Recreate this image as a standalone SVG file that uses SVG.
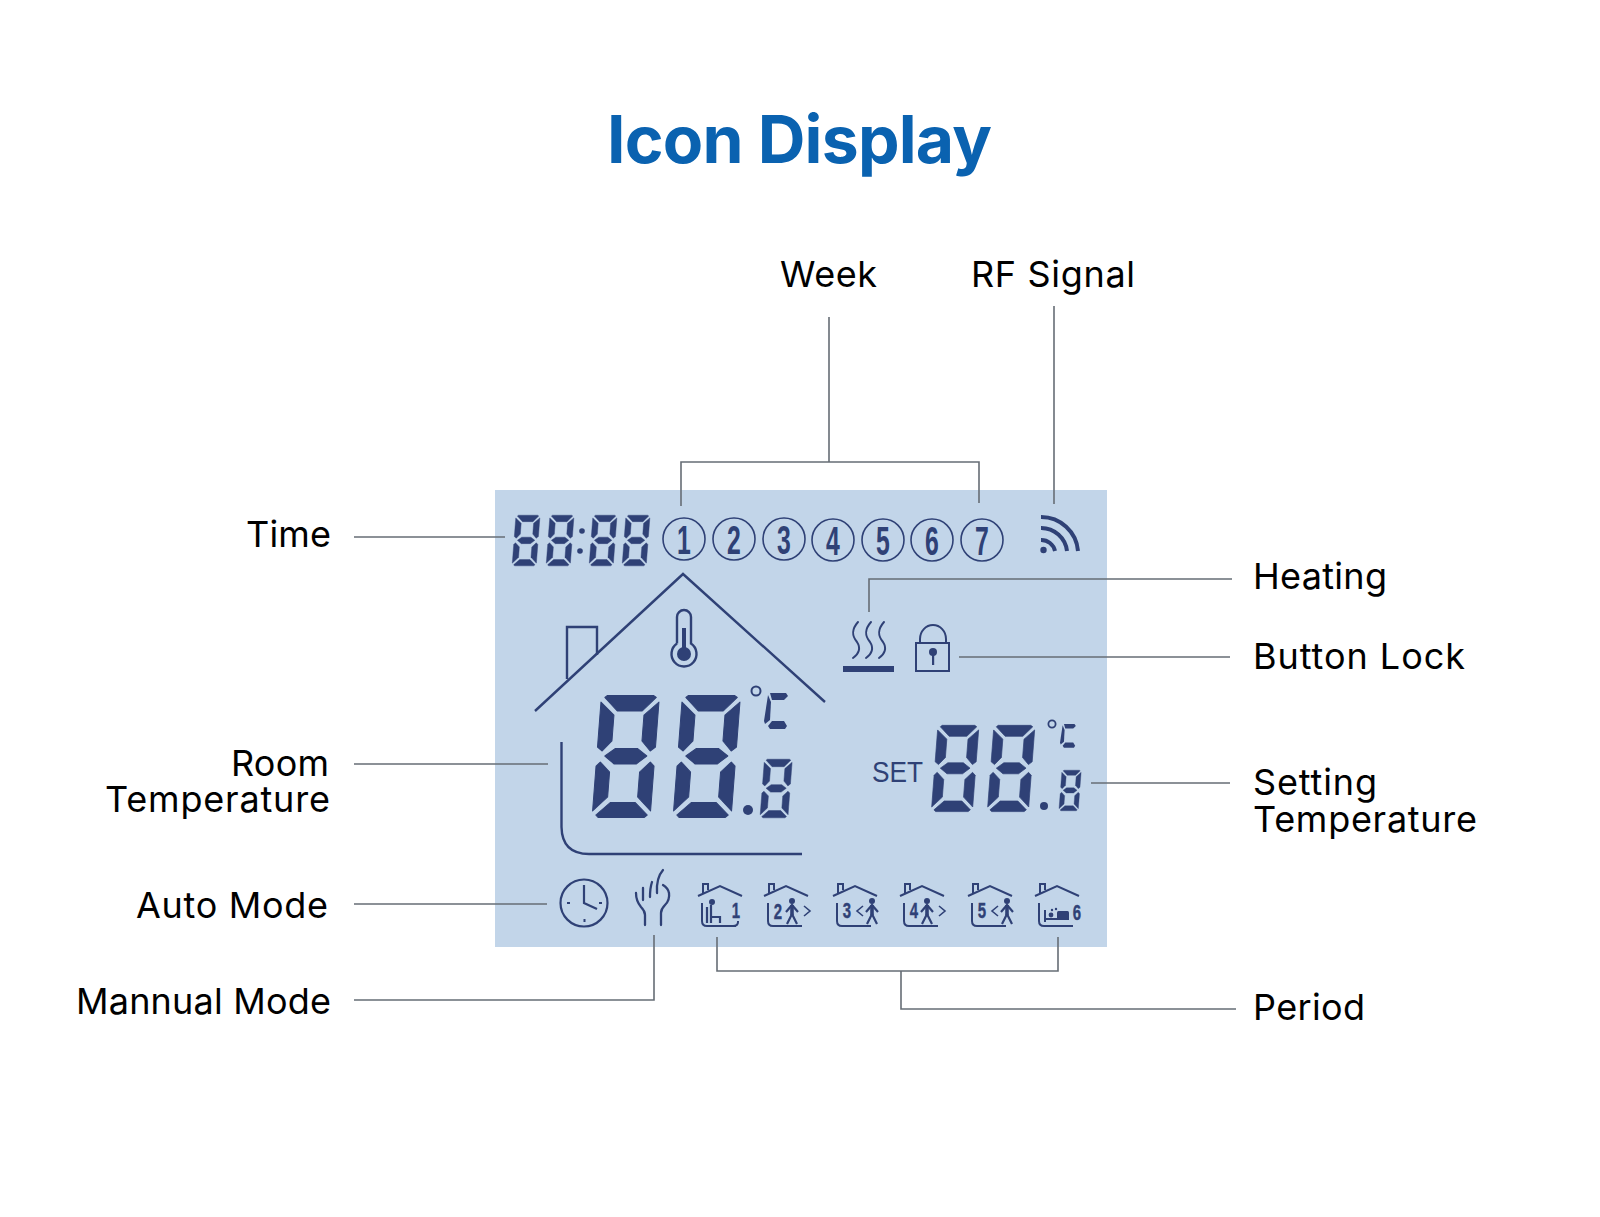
<svg xmlns="http://www.w3.org/2000/svg" width="1600" height="1217" viewBox="0 0 1600 1217">
<style>
.lb{font-family:Inter,"Liberation Sans",sans-serif;font-size:36px;fill:#000}
.ti{font-family:Inter,"Liberation Sans",sans-serif;font-size:66px;font-weight:700;fill:#0a62b0}
.ld{fill:none;stroke:#666d75;stroke-width:1.6}
.dk{fill:#2f4176}
.ln{fill:none;stroke:#2f4176;stroke-width:2.4}
.th{fill:none;stroke:#2f4176;stroke-width:2;stroke-linecap:round}
.num{font-family:"Liberation Sans",sans-serif;font-weight:700;fill:#2f4176;text-anchor:middle}
</style>
<defs>
<g id="seg" class="dk" stroke="#2f4176" stroke-width="1" stroke-linejoin="round">
<polygon points="6,.5 52,.5 55,2.500 42,16 17,16 3.500,2.500"/>
<polygon points="0,7 14,20 14,46 5,56 0,52"/>
<polygon points="58,7 44,20 44,46 53,56 58,52"/>
<polygon points="8,61 18,53.500 40,53.500 50,61 40,69 18,69"/>
<polygon points="0,71 4,67 14,77 14,102 0,116"/>
<polygon points="58,71 54,67 44,77 44,102 58,116"/>
<polygon points="3.500,120 17,107.500 42,107.500 55,120 52,122.500 6,122.500"/>
</g>
<g id="cel" class="dk">
<polygon points="6,0 22,0 24,3 20,7 8,7"/>
<polygon points="4,2 7,9 6,27 1,31 0,28"/>
<polygon points="4,33 8,28 20,28 23,33 21,36 6,36"/>
</g>
<g id="hs" fill="none" stroke="#2f4176" stroke-width="2">
<path d="M-22,10 L0,0 L22,10"/>
<path d="M-17,7 V-2 H-12 V4"/>
<path d="M-18,17 V35 Q-18,40 -13,40 H16"/>
</g>
<g id="wk">
<circle cx="0" cy="-10" r="3" class="dk"/>
<path d="M-6,1 L0,-6 L6,1 M-5,13 L0,3 L5,13" fill="none" stroke="#2f4176" stroke-width="2.200"/>
<path d="M0,-6 V4" fill="none" stroke="#2f4176" stroke-width="3.600"/>
</g>
<path id="gt" d="M-3,-5 L3,0 L-3,5" fill="none" stroke="#2f4176" stroke-width="1.6"/>
<path id="lt" d="M3,-5 L-3,0 L3,5" fill="none" stroke="#2f4176" stroke-width="1.6"/>
</defs>
<rect width="1600" height="1217" fill="#fff"/>
<text class="ti" x="607" y="163" textLength="385">Icon Display</text>
<rect id="panel" x="495" y="490" width="612" height="457" fill="#c2d5e9"/>

<g id="connectors">
<path class="ld" d="M354,537 H505"/>
<path class="ld" d="M829,317 V462 M681,506 V462 H979 V503"/>
<path class="ld" d="M1054,306 V504"/>
<path class="ld" d="M869,612 V579 H1232"/>
<path class="ld" d="M959,657 H1230"/>
<path class="ld" d="M354,764 H548"/>
<path class="ld" d="M1091,783 H1230"/>
<path class="ld" d="M354,904 H547"/>
<path class="ld" d="M654,935 V1000 H354"/>
<path class="ld" d="M717,937 V971 H1058 V937 M901,971 V1009 H1236"/>
</g>

<g id="time">
<use href="#seg" transform="translate(516,515) scale(.415) skewX(-4.4)"/>
<use href="#seg" transform="translate(550,515) scale(.415) skewX(-4.4)"/>
<circle cx="582" cy="531" r="2.8" class="dk"/><circle cx="580" cy="551" r="2.8" class="dk"/>
<use href="#seg" transform="translate(593,515) scale(.415) skewX(-4.4)"/>
<use href="#seg" transform="translate(626,515) scale(.415) skewX(-4.4)"/>
</g>

<g id="week">
<g fill="none" stroke="#2f4176" stroke-width="1.6">
<circle cx="684" cy="539" r="21"/><circle cx="734" cy="539" r="21"/><circle cx="784" cy="539" r="21"/><circle cx="833" cy="540" r="21"/><circle cx="883" cy="540" r="21"/><circle cx="932" cy="540" r="21"/><circle cx="982" cy="540" r="21"/>
</g>
<text class="num" font-size="40" transform="translate(684,554) scale(.62,1)">1</text>
<text class="num" font-size="40" transform="translate(734,554) scale(.62,1)">2</text>
<text class="num" font-size="40" transform="translate(784,554) scale(.62,1)">3</text>
<text class="num" font-size="40" transform="translate(833,555) scale(.62,1)">4</text>
<text class="num" font-size="40" transform="translate(883,555) scale(.62,1)">5</text>
<text class="num" font-size="40" transform="translate(932,555) scale(.62,1)">6</text>
<text class="num" font-size="40" transform="translate(982,555) scale(.62,1)">7</text>
</g>

<g id="rf">
<circle cx="1043.5" cy="550" r="3.2" class="dk"/>
<path d="M1041,540 A14,14 0 0 1 1055,551 M1041,528 A26,26 0 0 1 1067,551 M1041,517 A37,37 0 0 1 1078,551" fill="none" stroke="#2f4176" stroke-width="4"/>
</g>

<g id="room">
<path class="ln" d="M535,711 L683,574 L825,702"/>
<path class="ln" d="M567,679 V627 H597 V655"/>
<path class="ln" d="M561.500,742 V827 Q562,854 589,854 H802"/>
<path class="ln" d="M677,643.600 V617 a7,7 0 0 1 14,0 V643.600 a12.500,12.500 0 1 1 -14,0"/>
<rect x="682" y="628" width="4" height="22" class="dk"/>
<circle cx="684" cy="654" r="7" class="dk"/>
<use href="#seg" transform="translate(601.500,695) skewX(-4.4)"/>
<use href="#seg" transform="translate(682.500,695) skewX(-4.4)"/>
<circle cx="748" cy="810" r="5" class="dk"/>
<use href="#seg" transform="translate(764.500,759) scale(.48) skewX(-4.4)"/>
<circle cx="756" cy="691" r="4.500" fill="none" stroke="#2f4176" stroke-width="2"/>
<use href="#cel" transform="translate(764,693)"/>
</g>

<g id="heating">
<rect x="843" y="666" width="51" height="6" class="dk"/>
<path class="th" d="M858,622 C851,630 852,636 857,642 C861,648 859,654 853,658 M871,622 C864,630 865,636 870,642 C874,648 872,654 866,658 M884,622 C877,630 878,636 883,642 C887,648 885,654 879,658"/>
</g>

<g id="lock">
<rect x="916" y="643" width="33" height="28" fill="none" stroke="#2f4176" stroke-width="2"/>
<path d="M920,643 V639 a13,14 0 0 1 26,0 V643" fill="none" stroke="#2f4176" stroke-width="2"/>
<circle cx="933" cy="652" r="4" class="dk"/>
<rect x="932" y="652" width="2.200" height="13" class="dk"/>
</g>

<g id="setting">
<text x="872" y="782" font-family="Liberation Sans,sans-serif" font-size="29" fill="#2f4176" textLength="51" lengthAdjust="spacingAndGlyphs">SET</text>
<use href="#seg" transform="translate(938,725) scale(.707) skewX(-4.4)"/>
<use href="#seg" transform="translate(994,725) scale(.707) skewX(-4.4)"/>
<circle cx="1044" cy="806" r="4" class="dk"/>
<use href="#seg" transform="translate(1062,770) scale(.333) skewX(-4.4)"/>
<circle cx="1052" cy="724" r="3.600" fill="none" stroke="#2f4176" stroke-width="1.800"/>
<use href="#cel" transform="translate(1060,724) scale(.66)"/>
</g>

<g id="auto">
<circle cx="584" cy="903" r="23.500" fill="none" stroke="#2f4176" stroke-width="2.200"/>
<path d="M584,885 V903 L597,909" fill="none" stroke="#2f4176" stroke-width="2.200"/>
<path d="M567,903 H570 M599,903 H602 M584.500,919 V922" fill="none" stroke="#2f4176" stroke-width="2"/>
</g>

<g id="manual">
<path d="M645,925 V915 Q645,911 641,907 Q636,901 636,893 M643,900 L643,888 M650,897 Q650,888 652,882 M657,893 Q656,878 663,870 M661,925 V913 Q661,909 665,905 Q670,900 669,893 Q668,888 663,885" fill="none" stroke="#2f4176" stroke-width="2.300" stroke-linecap="round"/>
</g>

<g id="period">
<g id="p1">
<use href="#hs" transform="translate(720,886)"/>
<path d="M738,921 V922 Q738,926 733,926" fill="none" stroke="#2f4176" stroke-width="2"/>
<text class="num" font-size="22" stroke="#2f4176" stroke-width=".4" transform="translate(736,918) scale(.68,1)">1</text>
<circle cx="712" cy="902" r="3" class="dk"/>
<path d="M711,905 V917 H720 V923 M711,917 V923 M707,907 V923" fill="none" stroke="#2f4176" stroke-width="2.200"/>
</g>
<g id="p2">
<use href="#hs" transform="translate(786,886)"/>
<text class="num" font-size="22" stroke="#2f4176" stroke-width=".4" transform="translate(778,919) scale(.68,1)">2</text>
<use href="#wk" transform="translate(792,911)"/>
<use href="#gt" transform="translate(807,911)"/>
</g>
<g id="p3">
<use href="#hs" transform="translate(855,886)"/>
<text class="num" font-size="22" stroke="#2f4176" stroke-width=".4" transform="translate(847,918) scale(.68,1)">3</text>
<use href="#lt" transform="translate(860,911)"/>
<use href="#wk" transform="translate(872,911)"/>
</g>
<g id="p4">
<use href="#hs" transform="translate(922,886)"/>
<text class="num" font-size="22" stroke="#2f4176" stroke-width=".4" transform="translate(914,918) scale(.68,1)">4</text>
<use href="#wk" transform="translate(927,911)"/>
<use href="#gt" transform="translate(942,911)"/>
</g>
<g id="p5">
<use href="#hs" transform="translate(990,886)"/>
<text class="num" font-size="22" stroke="#2f4176" stroke-width=".4" transform="translate(982,918) scale(.68,1)">5</text>
<use href="#lt" transform="translate(995,911)"/>
<use href="#wk" transform="translate(1007,911)"/>
</g>
<g id="p6">
<use href="#hs" transform="translate(1057,886)"/>
<path d="M1045,910 V922 M1045,919 H1069" fill="none" stroke="#2f4176" stroke-width="2"/>
<rect x="1057" y="911" width="12" height="9" rx="1.500" class="dk"/>
<circle cx="1051" cy="915" r="2.400" class="dk"/>
<circle cx="1052" cy="910" r="1.200" class="dk"/><circle cx="1056" cy="909" r="1.200" class="dk"/>
<text class="num" font-size="22" stroke="#2f4176" stroke-width=".4" transform="translate(1077,920) scale(.68,1)">6</text>
</g>
</g>

<g id="labels">
<text class="lb" x="246" y="547" textLength="85">Time</text>
<text class="lb" x="231" y="776" textLength="98">Room</text>
<text class="lb" x="105" y="812" textLength="225">Temperature</text>
<text class="lb" x="136" y="918" textLength="192">Auto Mode</text>
<text class="lb" x="76" y="1014" textLength="255">Mannual Mode</text>
<text class="lb" x="780" y="287" textLength="97">Week</text>
<text class="lb" x="971" y="287" textLength="164">RF Signal</text>
<text class="lb" x="1253" y="589" textLength="134">Heating</text>
<text class="lb" x="1253" y="669" textLength="212">Button Lock</text>
<text class="lb" x="1253" y="795" textLength="124">Setting</text>
<text class="lb" x="1253" y="832" textLength="224">Temperature</text>
<text class="lb" x="1253" y="1020" textLength="112">Period</text>
</g>
</svg>
